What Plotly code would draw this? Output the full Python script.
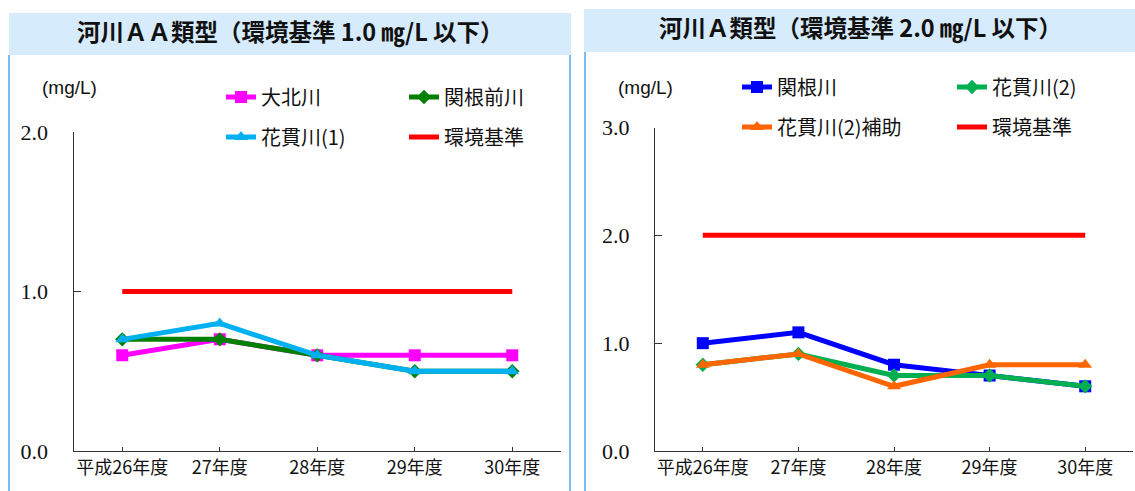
import plotly.graph_objects as go

# 年度（カテゴリ）
years = ["平成26年度", "27年度", "28年度", "29年度", "30年度"]

# 河川AA類型 (mg/L)
oakita = [0.6, 0.7, 0.6, 0.6, 0.6]          # 大北川
sekinemae = [0.7, 0.7, 0.6, 0.5, 0.5]       # 関根前川
hananuki1 = [0.7, 0.8, 0.6, 0.5, 0.5]       # 花貫川(1)
standard_aa = [1.0, 1.0, 1.0, 1.0, 1.0]     # 環境基準

# 河川A類型 (mg/L)
sekine = [1.0, 1.1, 0.8, 0.7, 0.6]          # 関根川
hananuki2 = [0.8, 0.9, 0.7, 0.7, 0.6]       # 花貫川(2)
hananuki2_sub = [0.8, 0.9, 0.6, 0.8, 0.8]   # 花貫川(2)補助
standard_a = [2.0, 2.0, 2.0, 2.0, 2.0]      # 環境基準

aa_ticks = [0, 1, 2]
aa_ticktext = ["0.0", "1.0", "2.0"]
a_ticks = [0, 1, 2, 3]
a_ticktext = ["0.0", "1.0", "2.0", "3.0"]

W, H = 1135, 491
JP = "Noto Sans CJK JP"
SERIF = "Liberation Serif"
SANS = "Liberation Sans"


def fx(x):
    return x / W


def fy(y):
    return 1 - y / H


fig = go.Figure()


def add_series(name, values, color, symbol, size, xa, ya, legend):
    fig.add_trace(go.Scatter(
        x=years, y=values, name=name, mode="lines+markers" if symbol else "lines",
        line=dict(color=color, width=5),
        marker=dict(symbol=symbol or "circle", size=size, color=color),
        xaxis=xa, yaxis=ya, legend=legend, hoverinfo="skip",
    ))


# 左：河川AA類型
add_series("大北川", oakita, "#ff00ff", "square", 12, "x", "y", "legend")
add_series("関根前川", sekinemae, "#008000", "diamond", 11, "x", "y", "legend")
add_series("花貫川(1)", hananuki1, "#00b0f0", "triangle-up", 12, "x", "y", "legend2")
add_series("環境基準", standard_aa, "#ff0000", None, 0, "x", "y", "legend2")

# 右：河川A類型
add_series("関根川", sekine, "#0000ff", "square", 12, "x2", "y2", "legend3")
add_series("花貫川(2)", hananuki2, "#00b050", "diamond", 11, "x2", "y2", "legend3")
add_series("花貫川(2)補助", hananuki2_sub, "#ff6600", "triangle-up", 12, "x2", "y2", "legend4")
add_series("環境基準", standard_a, "#ff0000", None, 0, "x2", "y2", "legend4")

xcommon = dict(
    type="category", range=[-0.5, 4.5], showline=True, linecolor="#333333", linewidth=1,
    ticks="inside", ticklen=4, tickcolor="#333333", showgrid=False, zeroline=False,
    tickfont=dict(family=JP, size=18, color="#111111"), automargin=False, fixedrange=True,
)
ycommon = dict(
    showline=True, linecolor="#333333", linewidth=1, ticks="inside", ticklen=7,
    tickcolor="#333333", showgrid=False, zeroline=False,
    tickfont=dict(family=SERIF, size=22, color="#111111"), ticklabelstandoff=20,
    automargin=False, fixedrange=True,
)

legend_common = dict(
    orientation="h", xanchor="left", yanchor="middle", bgcolor="rgba(0,0,0,0)",
    font=dict(family=JP, size=20, color="#111111"), entrywidthmode="pixels",
    itemclick=False, itemdoubleclick=False, traceorder="normal",
)

fig.update_layout(
    width=W, height=H, margin=dict(l=0, r=0, t=0, b=0, autoexpand=False),
    paper_bgcolor="white", plot_bgcolor="white", showlegend=True,
    xaxis=dict(domain=[fx(73.5), fx(561)], anchor="y", **xcommon),
    yaxis=dict(domain=[fy(451), fy(132)], anchor="x", range=[0, 2],
               tickvals=aa_ticks, ticktext=aa_ticktext, **ycommon),
    xaxis2=dict(domain=[fx(655), fx(1133)], anchor="y2", **xcommon),
    yaxis2=dict(domain=[fy(451), fy(127.5)], anchor="x2", range=[0, 3],
                tickvals=a_ticks, ticktext=a_ticktext, **ycommon),
    legend=dict(x=fx(221), y=fy(97), entrywidth=138, **legend_common),
    legend2=dict(x=fx(221), y=fy(137), entrywidth=138, **legend_common),
    legend3=dict(x=fx(737), y=fy(87), entrywidth=170, **legend_common),
    legend4=dict(x=fx(737), y=fy(127), entrywidth=170, **legend_common),
)

# 見出しの帯と枠線
band = "#d6ebfb"
frame = "#7fbaf0"
shapes = [
    dict(type="rect", xref="paper", yref="paper", x0=fx(9), x1=fx(571), y0=fy(55), y1=fy(13),
         fillcolor=band, line=dict(width=0), layer="below"),
    dict(type="rect", xref="paper", yref="paper", x0=fx(584), x1=1, y0=fy(52), y1=fy(9),
         fillcolor=band, line=dict(width=0), layer="below"),
    dict(type="line", xref="paper", yref="paper", x0=fx(9), x1=fx(9), y0=fy(55), y1=0,
         line=dict(color=frame, width=2)),
    dict(type="line", xref="paper", yref="paper", x0=fx(570), x1=fx(570), y0=fy(55), y1=0,
         line=dict(color=frame, width=2)),
    dict(type="line", xref="paper", yref="paper", x0=fx(585), x1=fx(585), y0=fy(52), y1=0,
         line=dict(color=frame, width=2)),
]
fig.update_layout(shapes=shapes)

annotations = [
    dict(text="<b>河川ＡＡ類型（環境基準 1.0 ㎎/L 以下）</b>", x=fx(290), y=fy(31),
         font=dict(family=JP, size=23.5, color="#111111")),
    dict(text="<b>河川Ａ類型（環境基準 2.0 ㎎/L 以下）</b>", x=fx(860), y=fy(27),
         font=dict(family=JP, size=23.5, color="#111111")),
    dict(text="(mg/L)", x=fx(69), y=fy(87), font=dict(family=SANS, size=19, color="#111111")),
    dict(text="(mg/L)", x=fx(645), y=fy(87), font=dict(family=SANS, size=19, color="#111111")),
]
for a in annotations:
    a.update(xref="paper", yref="paper", showarrow=False, xanchor="center", yanchor="middle")
fig.update_layout(annotations=annotations)

fig.write_html("out.html", config={"displayModeBar": False})
